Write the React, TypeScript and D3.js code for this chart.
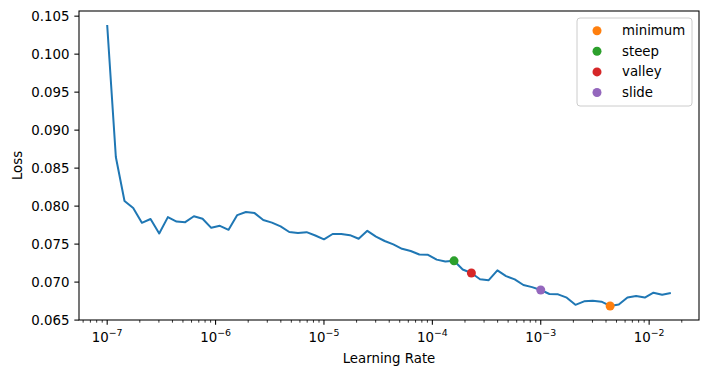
import React from "react";
import * as d3 from "d3";

const learningRates = [
  1.000e-7, 1.202e-7, 1.445e-7, 1.738e-7, 2.089e-7, 2.512e-7, 3.020e-7, 3.631e-7, 4.365e-7, 5.248e-7,
  6.310e-7, 7.586e-7, 9.120e-7, 1.096e-6, 1.318e-6, 1.585e-6, 1.905e-6, 2.291e-6, 2.754e-6, 3.311e-6,
  3.981e-6, 4.786e-6, 5.754e-6, 6.918e-6, 8.318e-6, 1.000e-5, 1.202e-5, 1.445e-5, 1.738e-5, 2.089e-5,
  2.512e-5, 3.020e-5, 3.631e-5, 4.365e-5, 5.248e-5, 6.310e-5, 7.586e-5, 9.120e-5, 1.096e-4, 1.318e-4,
  1.585e-4, 1.905e-4, 2.291e-4, 2.754e-4, 3.311e-4, 3.981e-4, 4.786e-4, 5.754e-4, 6.918e-4, 8.318e-4,
  1.000e-3, 1.202e-3, 1.445e-3, 1.738e-3, 2.089e-3, 2.512e-3, 3.020e-3, 3.631e-3, 4.365e-3, 5.248e-3,
  6.310e-3, 7.586e-3, 9.120e-3, 1.096e-2, 1.318e-2, 1.585e-2,
];

const losses = [
  0.10383, 0.08646, 0.08067, 0.07974, 0.0778, 0.0783, 0.0764, 0.07855, 0.07797, 0.07789,
  0.07867, 0.07833, 0.07714, 0.07741, 0.07688, 0.07882, 0.07922, 0.07908, 0.07817, 0.07783,
  0.07733, 0.07659, 0.07646, 0.07657, 0.07613, 0.07563, 0.07633, 0.07633, 0.07618, 0.0757,
  0.07675, 0.07599, 0.07541, 0.07496, 0.07438, 0.07409, 0.07363, 0.07359, 0.07296, 0.07271,
  0.0728, 0.07166, 0.0712, 0.07037, 0.07025, 0.07154, 0.07079, 0.07036, 0.06962, 0.06934,
  0.06896, 0.06843, 0.06839, 0.06795, 0.06701, 0.06747, 0.06755, 0.06742, 0.06686, 0.06704,
  0.06797, 0.06817, 0.06797, 0.06861, 0.06834, 0.06857,
];

const suggestionNames = ["minimum", "steep", "valley", "slide"];
const suggestionLrs = [4.365e-3, 1.585e-4, 2.291e-4, 1.0e-3];
const suggestionLosses = [0.06686, 0.0728, 0.0712, 0.06896];
const suggestionColors = ["#ff7f0e", "#2ca02c", "#d62728", "#9467bd"];

const yTicks = [0.065, 0.07, 0.075, 0.08, 0.085, 0.09, 0.095, 0.1, 0.105];
const xMajorExponents = [-7, -6, -5, -4, -3, -2];

const W = 709;
const H = 377;
const left = 79;
const right = 699;
const top = 11;
const bottom = 320;
const FONT = "'DejaVu Sans', sans-serif";
const FS = 13.33;

export default function App() {
  const lx0 = Math.log10(learningRates[0]);
  const lx1 = Math.log10(learningRates[learningRates.length - 1]);
  const padX = 0.05 * (lx1 - lx0);
  const x = d3
    .scaleLog()
    .domain([Math.pow(10, lx0 - padX), Math.pow(10, lx1 + padX)])
    .range([left, right]);

  const [ymin, ymax] = d3.extent(losses) as [number, number];
  const padY = 0.05 * (ymax - ymin);
  const y = d3.scaleLinear().domain([ymin - padY, ymax + padY]).range([bottom, top]);

  const line = d3
    .line<number>()
    .x((_, i) => x(learningRates[i]))
    .y((d) => y(d));

  const [dx0, dx1] = x.domain();
  const minorTicks: number[] = [];
  for (let e = -9; e <= 0; e++) {
    for (let s = 2; s <= 9; s++) {
      const v = s * Math.pow(10, e);
      if (v >= dx0 && v <= dx1) minorTicks.push(v);
    }
  }

  const legendX = 577;
  const legendY = 18;
  const rowH = 20.6;

  return (
    <svg
      width={W}
      height={H}
      style={{ position: "absolute", left: 0, top: 0, background: "#fff" }}
      fontFamily={FONT}
    >
      <rect x={0} y={0} width={W} height={H} fill="#fff" />
      <defs>
        <clipPath id="plotClip">
          <rect x={left} y={top} width={right - left} height={bottom - top} />
        </clipPath>
      </defs>

      <path
        d={line(losses) || ""}
        fill="none"
        stroke="#1f77b4"
        strokeWidth={2}
        strokeLinejoin="round"
        strokeLinecap="butt"
        clipPath="url(#plotClip)"
      />

      {suggestionNames.map((n, i) => (
        <circle
          key={n}
          cx={x(suggestionLrs[i])}
          cy={y(suggestionLosses[i])}
          r={4.5}
          fill={suggestionColors[i]}
        />
      ))}

      <rect
        x={left}
        y={top}
        width={right - left}
        height={bottom - top}
        fill="none"
        stroke="#000"
        strokeWidth={1.07}
      />

      {yTicks.map((t) => (
        <g key={t}>
          <line x1={left - 4.67} x2={left} y1={y(t)} y2={y(t)} stroke="#000" strokeWidth={1.07} />
          <text x={left - 9.5} y={y(t) + 4.8} fontSize={FS} textAnchor="end" fill="#000">
            {t.toFixed(3)}
          </text>
        </g>
      ))}

      {minorTicks.map((t) => (
        <line
          key={"m" + t}
          x1={x(t)}
          x2={x(t)}
          y1={bottom}
          y2={bottom + 2.67}
          stroke="#000"
          strokeWidth={0.8}
        />
      ))}

      {xMajorExponents.map((e) => {
        const px = x(Math.pow(10, e));
        return (
          <g key={e}>
            <line x1={px} x2={px} y1={bottom} y2={bottom + 4.67} stroke="#000" strokeWidth={1.07} />
            <text x={px} y={342} fontSize={FS} textAnchor="middle" fill="#000">
              10
              <tspan fontSize={9.4} dy={-5.8}>
                {"\u2212" + Math.abs(e)}
              </tspan>
            </text>
          </g>
        );
      })}

      <text x={(left + right) / 2} y={363} fontSize={FS} textAnchor="middle" fill="#000">
        Learning Rate
      </text>
      <text
        transform={`translate(21.5, ${(top + bottom) / 2}) rotate(-90)`}
        fontSize={FS}
        textAnchor="middle"
        fill="#000"
      >
        Loss
      </text>

      <rect
        x={legendX}
        y={legendY}
        width={115}
        height={88}
        rx={3}
        fill="#fff"
        fillOpacity={0.8}
        stroke="#cccccc"
        strokeWidth={1}
      />
      {suggestionNames.map((n, i) => {
        const cy = legendY + 12.7 + i * rowH;
        return (
          <g key={"lg" + n}>
            <circle cx={597} cy={cy} r={4.5} fill={suggestionColors[i]} />
            <text x={622} y={cy + 4.5} fontSize={FS} fill="#000">
              {n}
            </text>
          </g>
        );
      })}
    </svg>
  );
}
